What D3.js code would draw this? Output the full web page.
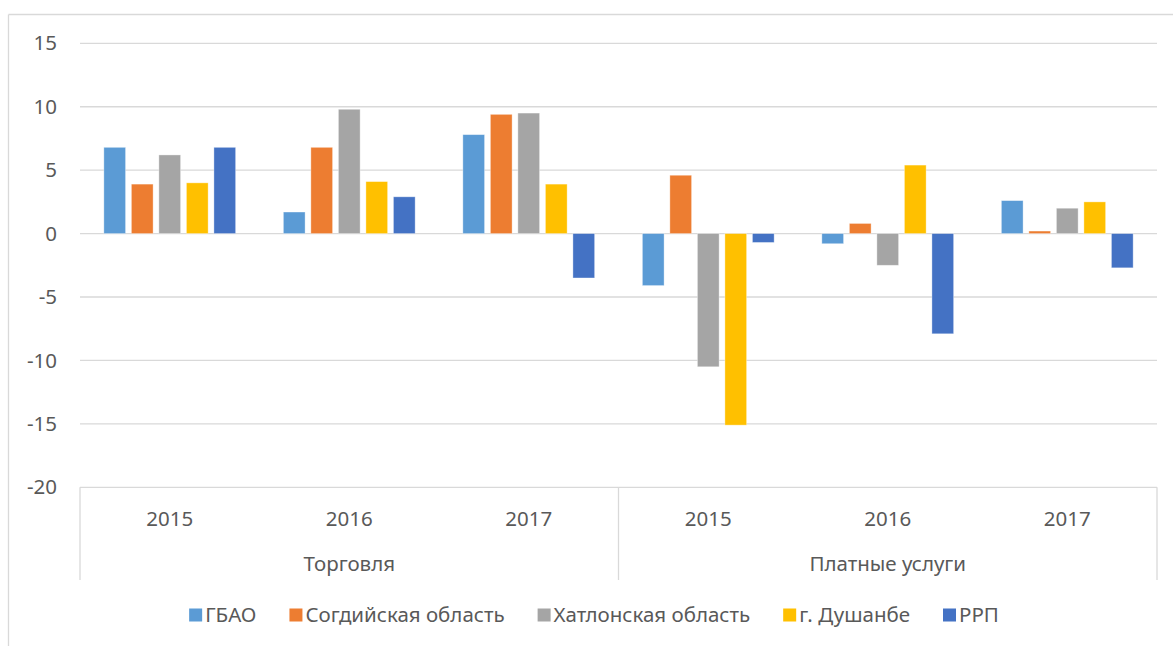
<!DOCTYPE html>
<html>
<head>
<meta charset="utf-8">
<script src="https://cdn.jsdelivr.net/npm/d3@7"></script>
<style>
  body { margin: 0; background: #fff; }
  svg text { font-family: "Noto Sans", "Open Sans", sans-serif; fill: #595959; }
</style>
</head>
<body>
<svg id="chart"></svg>
<script>
// data
let groups = ['Торговля', 'Платные услуги'];
let years = ['2015', '2016', '2017'];
let seriesNames = ['ГБАО', 'Согдийская область', 'Хатлонская область', 'г. Душанбе', 'РРП'];
let gbao = [6.8, 1.7, 7.8, -4.1, -0.8, 2.6];
let sogd = [3.9, 6.8, 9.4, 4.6, 0.8, 0.2];
let khatlon = [6.2, 9.8, 9.5, -10.5, -2.5, 2.0];
let dushanbe = [4.0, 4.1, 3.9, -15.1, 5.4, 2.5];
let rrp = [6.8, 2.9, -3.5, -0.7, -7.9, -2.7];
let yTicks = [15, 10, 5, 0, -5, -10, -15, -20];

let colors = ['#5B9BD5', '#ED7D31', '#A5A5A5', '#FFC000', '#4472C4'];
let values = [gbao, sogd, khatlon, dushanbe, rrp];

let width = 1173;
let height = 646;
let plotLeft = 80, plotRight = 1157, plotTop = 43.3, plotBottom = 487.3;

let svg = d3.select('#chart').attr('width', width).attr('height', height);

// chart frame (only top and left edges visible in the crop)
svg.append('line').attr('x1', 8.5).attr('x2', 8.5).attr('y1', 14.5).attr('y2', height)
    .attr('stroke', '#d9d9d9').attr('stroke-width', 1.3);
svg.append('line').attr('x1', 8.5).attr('x2', width).attr('y1', 14.5).attr('y2', 14.5)
    .attr('stroke', '#d9d9d9').attr('stroke-width', 1.3);

// categories: each group x year
let cats = [];
groups.forEach(g => years.forEach(y => cats.push(g + '|' + y)));

let x0 = d3.scaleBand().domain(cats).range([plotLeft, plotRight]);
let x1 = d3.scaleBand().domain(seriesNames).range([0, x0.bandwidth()])
    .paddingInner(0.21).paddingOuter(0.867);
let yScale = d3.scaleLinear().domain([-20, 15]).range([plotBottom, plotTop]);

// gridlines
svg.append('g').selectAll('line').data(yTicks).enter().append('line')
    .attr('x1', plotLeft).attr('x2', plotRight)
    .attr('y1', d => yScale(d)).attr('y2', d => yScale(d))
    .attr('stroke', '#d9d9d9').attr('stroke-width', 1.3);

// y axis labels (plain hyphen for negatives, like the original)
let yAxis = d3.axisLeft(yScale).tickValues(yTicks).tickSize(0).tickPadding(23)
    .tickFormat(d => String(d));
let yg = svg.append('g').attr('transform', 'translate(' + plotLeft + ',0)').call(yAxis);
yg.select('.domain').remove();
yg.attr('font-family', null).attr('font-size', null);
yg.selectAll('text').style('font-size', '20.5px').attr('fill', '#595959');

// bars
let barData = [];
values.forEach((arr, si) => arr.forEach((v, ci) => barData.push({ s: seriesNames[si], si: si, c: cats[ci], v: v })));

svg.append('g').selectAll('rect').data(barData).enter().append('rect')
    .attr('x', d => x0(d.c) + x1(d.s))
    .attr('width', x1.bandwidth())
    .attr('y', d => yScale(Math.max(0, d.v)))
    .attr('height', d => Math.abs(yScale(d.v) - yScale(0)))
    .attr('fill', d => colors[d.si])
    .attr('stroke', '#fff').attr('stroke-opacity', 0.45).attr('stroke-width', 0.8);

// category axis table below the plot
let axisBottomY = 580;
let tbl = svg.append('g');
let sepX = [plotLeft, x0(cats[3]), plotRight];
tbl.selectAll('line.sep').data(sepX).enter().append('line')
    .attr('x1', d => d).attr('x2', d => d)
    .attr('y1', plotBottom).attr('y2', axisBottomY)
    .attr('stroke', '#d9d9d9').attr('stroke-width', 1.3);

tbl.selectAll('text.year').data(cats).enter().append('text')
    .attr('x', d => x0(d) + x0.bandwidth() / 2)
    .attr('y', 526)
    .attr('text-anchor', 'middle')
    .style('font-size', '20.5px')
    .text(d => d.split('|')[1]);

tbl.selectAll('text.group').data(groups).enter().append('text')
    .attr('x', (d, i) => (sepX[i] + sepX[i + 1]) / 2)
    .attr('y', 571)
    .attr('text-anchor', 'middle')
    .style('font-size', '20.5px')
    .text(d => d);

// legend
let legend = svg.append('g');
let lx = 0;
seriesNames.forEach((name, i) => {
    let it = legend.append('g');
    it.append('rect').attr('x', 0).attr('y', -13.5).attr('width', 13).attr('height', 13).attr('fill', colors[i]);
    let t = it.append('text').attr('x', 16).attr('y', 0).style('font-size', '20.5px').text(name);
    let w = 16 + t.node().getComputedTextLength();
    it.attr('transform', 'translate(' + lx + ',0)');
    lx += w + 33;
});
let legendWidth = lx - 33;
legend.attr('transform', 'translate(' + (594 - legendWidth / 2) + ',622)');
</script>
</body>
</html>
